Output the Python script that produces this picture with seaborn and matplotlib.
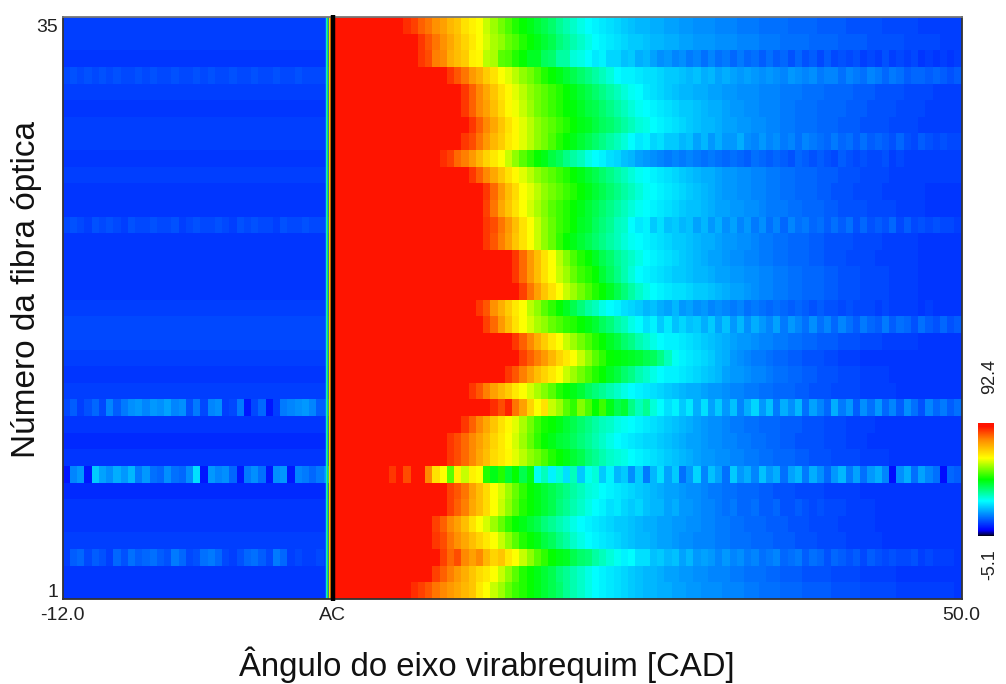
import numpy as np
import pandas as pd
import matplotlib
matplotlib.use("Agg")
import matplotlib.pyplot as plt
from matplotlib.colors import LinearSegmentedColormap
import seaborn as sns

v_min = -5.1
v_max = 92.4

# one column = half a grid step, 37 columns left of AC, 87 right of it
n_left = 37
n_right = 87
ac_col = 37.3

# rows run from fibre 35 (top) down to fibre 1
fibres = list(range(35, 0, -1))

# background level left of AC, per fibre row
left_levels = [6, 6, 5, 7, 6, 5, 6, 6, 5, 6, 5, 5, 7, 5, 5, 5, 5, 6, 7, 7, 6, 5, 6, 9, 5, 4, 5, 11, 4, 5, 5, 6, 7, 5, 5]

# rows with visible streaks left of AC
left_streaks = {
    3: [7, 8, 7, 8, 7, 8, 7, 8, 7, 7, 8, 7, 8, 7, 7, 8, 7, 7, 8, 7, 8, 7, 7, 8, 7, 7, 8, 7, 7, 8, 7, 7, 8, 7, 7, 7, 7],
    12: [7, 8, 7, 6, 8, 7, 8, 7, 6, 8, 7, 7, 8, 7, 7, 8, 6, 7, 8, 7, 7, 8, 7, 6, 8, 7, 8, 7, 7, 6, 8, 7, 7, 8, 7, 7, 7],
    23: [7, 9, 6, 8, 10, 7, 13, 9, 12, 14, 15, 13, 15, 14, 16, 13, 14, 8, 12, 7, 13, 14, 6, 7, 12, 2, 7, 10, 2, 6, 12, 13, 14, 15, 13, 9, 9],
    27: [2, 13, 15, 2, 20, 16, 14, 17, 15, 18, 12, 15, 11, 10, 14, 11, 10, 14, 22, 2, 15, 13, 14, 10, 2, 12, 14, 11, 2, 14, 15, 2, 13, 12, 10, 12, 14],
    32: [6, 9, 10, 7, 9, 8, 6, 10, 8, 11, 9, 10, 11, 9, 8, 12, 10, 7, 8, 11, 12, 10, 7, 6, 8, 10, 11, 9, 7, 12, 10, 6, 7, 6, 6, 7, 6],
}

# saturated (red) columns right of AC, per fibre row
red_cols = [10, 12, 12, 16, 18, 18, 19, 18, 15, 19, 21, 21, 21, 21, 25, 25, 26, 20, 21, 25, 26, 24, 19, 22, 18, 16, 16, 8, 16, 16, 14, 14, 15, 14, 11]

# values after the red zone, one list per fibre row
fall_35 = [87, 85, 82, 80, 77, 75, 72, 70, 66, 64, 62, 58, 55, 52, 49, 46, 44, 42, 40, 38, 36, 33, 31, 29, 27, 25, 24, 23, 22, 21, 20, 19, 18, 18, 17, 17, 16, 16, 15, 15, 14, 14, 14, 13, 13, 13, 12, 12, 12, 11, 11, 11, 11, 10, 10, 10, 10, 9, 9, 9, 9, 8, 8, 8, 8, 8, 7, 7, 7, 7, 7, 6, 6, 6, 6, 6, 6]
fall_34 = [86, 83, 80, 77, 74, 71, 68, 65, 62, 59, 56, 54, 51, 49, 46, 44, 42, 40, 38, 35, 33, 31, 29, 27, 25, 24, 23, 22, 21, 20, 20, 19, 18, 18, 17, 17, 16, 16, 15, 15, 15, 14, 14, 14, 13, 13, 13, 12, 12, 12, 11, 11, 11, 11, 10, 10, 10, 10, 9, 9, 9, 9, 8, 8, 8, 8, 8, 7, 7, 7, 7, 7, 6, 6, 6]
fall_33 = [86, 84, 79, 78, 73, 71, 69, 64, 63, 57, 56, 50, 49, 46, 44, 41, 41, 37, 36, 32, 32, 28, 27, 25, 23, 24, 21, 21, 19, 20, 17, 18, 16, 14, 15, 13, 14, 12, 13, 11, 13, 11, 12, 10, 12, 10, 11, 9, 11, 9, 10, 8, 10, 8, 9, 7, 9, 7, 8, 7, 8, 6, 7, 6, 8, 6, 7, 6, 7, 5, 6, 5, 6, 5, 6]
fall_32 = [86, 83, 80, 76, 73, 69, 66, 62, 60, 57, 54, 52, 49, 46, 44, 42, 40, 38, 36, 34, 32, 30, 28, 25, 24, 24, 23, 22, 22, 21, 20, 20, 19, 18, 19, 17, 18, 16, 17, 16, 15, 16, 15, 14, 15, 14, 13, 15, 14, 13, 14, 12, 13, 13, 11, 13, 12, 11, 13, 12, 10, 12, 11, 9, 10, 10, 9, 10, 9, 8, 9]
fall_31 = [86, 82, 78, 74, 70, 66, 63, 60, 57, 54, 52, 50, 48, 46, 44, 42, 40, 38, 36, 34, 32, 30, 28, 26, 25, 23, 22, 21, 20, 19, 18, 18, 17, 17, 16, 16, 15, 15, 14, 14, 14, 13, 13, 13, 12, 12, 12, 11, 11, 11, 10, 10, 10, 10, 9, 9, 9, 8, 8, 8, 8, 7, 7, 7, 7, 6, 6, 6, 6]
fall_30 = [86, 82, 78, 75, 71, 67, 63, 61, 58, 55, 52, 50, 48, 46, 44, 43, 41, 39, 38, 36, 34, 32, 30, 28, 26, 25, 24, 23, 22, 21, 20, 20, 19, 18, 17, 17, 16, 15, 15, 14, 14, 13, 13, 13, 12, 12, 11, 11, 11, 10, 10, 10, 10, 9, 9, 9, 8, 8, 8, 8, 7, 7, 7, 7, 6, 6, 6, 6, 6]
fall_29 = [86, 82, 78, 74, 70, 66, 63, 60, 57, 54, 52, 50, 48, 46, 44, 42, 41, 39, 37, 36, 34, 32, 30, 28, 27, 25, 24, 23, 22, 21, 20, 19, 18, 18, 17, 16, 16, 15, 15, 14, 14, 13, 13, 12, 12, 11, 11, 11, 10, 10, 10, 9, 9, 9, 8, 8, 8, 8, 7, 7, 7, 7, 6, 6, 6, 6, 6, 6]
fall_28 = [86, 84, 80, 76, 72, 69, 65, 63, 60, 57, 54, 52, 49, 46, 44, 42, 40, 38, 36, 34, 32, 30, 28, 25, 23, 24, 21, 22, 20, 20, 18, 19, 16, 18, 15, 17, 15, 15, 17, 14, 13, 15, 13, 14, 12, 13, 11, 13, 12, 11, 10, 12, 10, 11, 9, 11, 9, 10, 9, 8, 10, 8, 7, 9, 8, 7, 8, 7, 7]
fall_27 = [87, 85, 81, 79, 76, 72, 68, 65, 62, 58, 54, 50, 47, 44, 42, 39, 37, 34, 32, 30, 27, 25, 24, 22, 21, 19, 18, 16, 15, 14, 13, 12, 13, 12, 13, 12, 11, 12, 11, 10, 11, 10, 9, 11, 10, 9, 10, 9, 8, 10, 9, 8, 9, 8, 7, 9, 8, 7, 8, 7, 7, 8, 6, 7, 6, 6, 6, 6, 6, 6, 6, 6]
fall_26 = [86, 82, 78, 74, 70, 66, 63, 60, 57, 54, 52, 50, 48, 46, 44, 42, 40, 38, 36, 34, 32, 30, 28, 26, 25, 24, 23, 22, 21, 20, 19, 18, 17, 17, 16, 15, 15, 14, 14, 13, 13, 12, 12, 11, 11, 10, 10, 10, 9, 9, 9, 8, 8, 8, 7, 7, 7, 7, 6, 6, 6, 6, 6, 6, 6, 6, 6, 6]
fall_25 = [86, 81, 76, 71, 67, 62, 60, 57, 54, 52, 50, 48, 46, 44, 42, 40, 38, 36, 34, 32, 30, 28, 26, 25, 24, 23, 22, 21, 20, 19, 18, 17, 16, 15, 15, 14, 14, 13, 13, 12, 12, 11, 11, 10, 10, 10, 9, 9, 8, 8, 8, 7, 7, 7, 7, 6, 6, 6, 6, 6, 6, 5, 5, 5, 5, 5]
fall_24 = [85, 80, 74, 70, 66, 62, 59, 56, 53, 50, 48, 46, 44, 42, 40, 38, 36, 34, 32, 30, 28, 26, 25, 24, 23, 22, 21, 20, 19, 19, 18, 17, 16, 16, 15, 15, 14, 14, 13, 12, 12, 12, 11, 11, 10, 10, 10, 9, 9, 8, 8, 8, 8, 7, 7, 7, 7, 6, 6, 6, 6, 5, 5, 5, 5, 5]
fall_23 = [86, 84, 80, 76, 71, 66, 62, 58, 54, 51, 48, 46, 44, 41, 40, 37, 35, 33, 30, 29, 25, 23, 24, 20, 22, 19, 20, 18, 19, 16, 18, 15, 17, 14, 16, 13, 15, 12, 14, 11, 13, 10, 13, 11, 12, 10, 11, 9, 11, 9, 11, 8, 10, 8, 9, 8, 10, 7, 9, 7, 8, 7, 8, 7, 7, 6, 7]
fall_22 = [86, 83, 79, 75, 70, 66, 62, 58, 54, 51, 47, 44, 42, 40, 38, 36, 34, 32, 30, 28, 26, 25, 24, 23, 22, 21, 20, 20, 19, 18, 17, 17, 16, 15, 15, 14, 14, 13, 12, 12, 11, 11, 10, 10, 10, 9, 9, 8, 8, 8, 8, 7, 7, 7, 7, 6, 6, 6, 6, 6, 5, 5, 5, 5, 5, 5]
fall_21 = [86, 81, 76, 71, 66, 62, 57, 53, 49, 46, 44, 41, 38, 36, 33, 31, 29, 27, 25, 24, 23, 22, 21, 20, 19, 18, 17, 16, 16, 15, 14, 14, 13, 13, 12, 12, 11, 11, 10, 10, 10, 9, 9, 8, 8, 8, 7, 7, 7, 7, 6, 6, 6, 6, 6, 6, 5, 5, 5, 5, 5, 5]
fall_20 = [86, 81, 76, 71, 66, 62, 58, 55, 51, 48, 46, 44, 40, 37, 34, 31, 28, 25, 24, 23, 22, 21, 20, 20, 19, 18, 18, 17, 16, 16, 15, 15, 14, 14, 13, 13, 12, 12, 11, 11, 10, 10, 10, 9, 9, 8, 8, 8, 7, 7, 7, 7, 6, 6, 6, 6, 5, 5, 5, 5, 5, 5]
fall_19 = [85, 80, 75, 70, 66, 62, 58, 55, 52, 49, 46, 44, 41, 38, 35, 32, 29, 27, 25, 24, 23, 22, 22, 21, 20, 20, 19, 18, 17, 16, 16, 15, 14, 13, 13, 12, 12, 11, 11, 10, 10, 10, 9, 9, 8, 8, 8, 7, 7, 7, 7, 6, 6, 6, 6, 5, 5, 5, 5, 5, 5]
fall_18 = [86, 83, 77, 73, 69, 65, 62, 57, 54, 50, 47, 44, 41, 38, 35, 32, 30, 27, 25, 24, 22, 21, 20, 18, 19, 17, 16, 18, 15, 16, 14, 15, 13, 14, 13, 12, 13, 11, 12, 11, 10, 11, 10, 9, 10, 9, 8, 9, 8, 8, 7, 8, 7, 7, 7, 6, 7, 6, 6, 6, 6, 5, 6, 5, 5, 5, 5]
fall_17 = [85, 81, 76, 71, 66, 62, 59, 56, 54, 51, 49, 47, 46, 44, 42, 40, 37, 35, 32, 30, 27, 25, 22, 24, 20, 23, 19, 21, 19, 20, 17, 20, 16, 19, 15, 18, 14, 17, 15, 13, 16, 12, 15, 13, 11, 14, 11, 13, 10, 13, 11, 9, 12, 10, 9, 12, 9, 11, 10, 8, 11, 9, 8, 10, 8, 9]
fall_16 = [86, 82, 78, 73, 69, 65, 62, 58, 55, 52, 49, 46, 44, 41, 39, 36, 34, 31, 29, 27, 25, 24, 24, 23, 22, 21, 20, 19, 18, 17, 16, 15, 15, 14, 13, 13, 12, 12, 11, 11, 10, 10, 9, 9, 9, 8, 8, 8, 7, 7, 7, 6, 6, 6, 6, 6, 5, 5, 5, 5, 5, 5]
fall_15 = [85, 82, 79, 76, 72, 68, 65, 62, 58, 54, 50, 47, 44, 43, 42, 41, 40, 38, 37, 34, 30, 26, 24, 23, 22, 21, 20, 18, 17, 15, 14, 13, 12, 12, 11, 10, 10, 9, 9, 8, 8, 8, 7, 7, 6, 6, 6, 5, 5, 5, 5, 5, 5, 5, 5, 5, 5, 5, 5, 5, 5]
fall_14 = [86, 83, 79, 75, 71, 68, 65, 62, 58, 55, 52, 49, 46, 44, 41, 39, 36, 34, 31, 29, 27, 25, 24, 24, 23, 22, 21, 20, 19, 18, 16, 15, 15, 14, 13, 13, 12, 11, 11, 10, 10, 9, 9, 8, 8, 8, 7, 7, 7, 6, 6, 6, 6, 5, 5, 5, 5, 5, 5, 5, 5, 5, 5]
fall_13 = [86, 83, 79, 75, 72, 69, 65, 62, 59, 56, 53, 50, 46, 44, 42, 40, 37, 35, 33, 31, 29, 27, 25, 24, 23, 22, 21, 20, 19, 18, 17, 17, 16, 15, 15, 14, 13, 13, 12, 12, 11, 11, 10, 10, 10, 9, 9, 8, 8, 8, 7, 7, 7, 7, 6, 6, 6, 6, 6, 5, 5, 5, 5, 5, 5, 5, 5, 5]
fall_12 = [87, 84, 88, 80, 75, 68, 62, 66, 58, 55, 50, 47, 53, 49, 44, 48, 42, 38, 40, 34, 30, 33, 28, 25, 22, 24, 20, 23, 17, 22, 16, 20, 15, 19, 13, 17, 21, 15, 19, 12, 17, 14, 18, 11, 16, 13, 10, 17, 12, 15, 9, 14, 11, 15, 10, 13, 9, 14, 11, 8, 13, 10, 12, 9, 11]
fall_11 = [86, 82, 78, 74, 70, 66, 63, 60, 56, 52, 48, 45, 44, 42, 40, 38, 36, 34, 32, 30, 29, 27, 26, 25, 24, 23, 22, 21, 20, 19, 18, 17, 16, 15, 14, 14, 13, 12, 12, 11, 11, 10, 10, 10, 9, 9, 9, 8, 8, 8, 7, 7, 7, 6, 6, 6, 6, 5, 5, 5, 5, 5, 5, 5, 5, 5, 5, 5, 5]
fall_10 = [86, 84, 81, 78, 75, 72, 68, 65, 62, 59, 55, 51, 47, 44, 42, 40, 39, 37, 35, 33, 31, 29, 27, 25, 24, 23, 22, 21, 21, 20, 19, 18, 17, 16, 16, 15, 14, 14, 13, 13, 12, 12, 11, 11, 10, 10, 9, 9, 8, 8, 8, 8, 7, 7, 7, 6, 6, 6, 5, 5, 5, 5, 5, 5, 5, 5, 5, 5, 5, 5, 5]
fall_9 = [86, 84, 81, 78, 74, 71, 67, 65, 63, 60, 57, 54, 52, 49, 46, 44, 42, 40, 38, 35, 33, 31, 29, 28, 27, 25, 24, 23, 22, 21, 20, 19, 18, 17, 16, 15, 15, 14, 14, 13, 13, 12, 12, 11, 11, 10, 10, 10, 9, 9, 8, 8, 8, 7, 7, 7, 7, 6, 6, 6, 6, 5, 5, 5, 5, 5, 5, 5, 5, 5, 5]
fall_8 = [86, 92, 84, 92, 90, 78, 66, 62, 50, 64, 58, 64, 62, 46, 42, 46, 40, 44, 38, 42, 26, 30, 24, 28, 22, 30, 20, 26, 28, 20, 24, 18, 20, 14, 20, 12, 18, 22, 16, 20, 11, 15, 21, 13, 19, 16, 11, 20, 15, 17, 13, 19, 15, 17, 11, 16, 18, 12, 17, 14, 10, 15, 18, 12, 16, 11, 15, 17, 13, 1, 14, 17, 11, 16, 13, 11, 1, 10, 9, 0]
fall_7 = [85, 83, 80, 75, 71, 67, 62, 59, 55, 51, 47, 44, 42, 40, 38, 36, 34, 32, 30, 28, 27, 25, 24, 23, 22, 21, 20, 19, 18, 17, 16, 16, 15, 14, 14, 13, 12, 12, 11, 11, 10, 10, 10, 9, 9, 8, 8, 8, 7, 7, 7, 7, 6, 6, 6, 6, 6, 5, 5, 5, 5, 5, 5, 5, 5, 5, 5, 5, 5, 5, 5]
fall_6 = [85, 82, 79, 74, 71, 67, 62, 58, 54, 50, 46, 44, 42, 40, 38, 35, 33, 31, 29, 27, 25, 24, 22, 23, 21, 20, 21, 19, 18, 18, 16, 17, 15, 15, 14, 13, 13, 12, 11, 12, 10, 10, 11, 9, 9, 10, 8, 8, 9, 8, 7, 8, 7, 7, 7, 6, 6, 6, 6, 5, 5, 5, 5, 5, 5, 5, 5, 5, 5, 5, 5, 5]
fall_5 = [85, 82, 78, 75, 71, 66, 62, 59, 55, 51, 47, 44, 42, 40, 38, 35, 33, 31, 29, 27, 25, 24, 23, 22, 21, 20, 20, 19, 18, 17, 17, 16, 16, 15, 15, 14, 14, 13, 13, 12, 12, 11, 11, 10, 10, 10, 9, 9, 9, 8, 8, 8, 7, 7, 7, 7, 6, 6, 6, 6, 6, 5, 5, 5, 5, 5, 5, 5, 5, 5, 5]
fall_4 = [86, 84, 80, 77, 74, 71, 68, 65, 62, 58, 54, 50, 46, 44, 42, 39, 37, 34, 32, 29, 27, 25, 24, 23, 22, 21, 20, 19, 18, 18, 17, 16, 16, 15, 14, 14, 13, 13, 13, 12, 12, 11, 11, 11, 10, 10, 10, 9, 9, 9, 8, 8, 8, 7, 7, 7, 7, 6, 6, 6, 6, 6, 5, 5, 5, 5, 5, 5, 5, 5, 5, 5, 5]
fall_3 = [85, 81, 84, 78, 75, 78, 72, 68, 70, 65, 62, 58, 54, 50, 47, 44, 42, 41, 38, 36, 35, 32, 30, 28, 26, 24, 25, 22, 22, 19, 20, 18, 19, 16, 18, 15, 16, 15, 13, 15, 13, 14, 12, 13, 11, 12, 13, 10, 11, 12, 9, 11, 10, 8, 10, 9, 8, 9, 7, 9, 8, 7, 8, 7, 7, 8, 6, 7, 6, 6, 6, 5, 6]
fall_2 = [85, 82, 79, 76, 73, 70, 67, 65, 62, 58, 54, 50, 46, 44, 42, 40, 38, 35, 33, 31, 29, 27, 25, 24, 23, 22, 21, 20, 19, 18, 18, 17, 16, 16, 15, 15, 14, 14, 13, 13, 13, 12, 12, 11, 11, 11, 10, 10, 9, 9, 9, 8, 8, 8, 8, 7, 7, 7, 7, 6, 6, 6, 6, 6, 5, 5, 5, 5, 5, 5, 5, 5, 5]
fall_1 = [87, 85, 83, 80, 78, 76, 74, 72, 70, 65, 62, 58, 55, 51, 48, 46, 44, 42, 40, 38, 36, 33, 31, 29, 27, 25, 24, 23, 22, 21, 20, 19, 18, 18, 17, 17, 16, 16, 15, 15, 14, 14, 14, 13, 13, 13, 12, 12, 11, 11, 11, 10, 10, 10, 9, 9, 9, 9, 8, 8, 8, 8, 7, 7, 7, 7, 7, 6, 6, 6, 6, 6, 6, 6, 6, 5]

falloffs = [fall_35, fall_34, fall_33, fall_32, fall_31, fall_30, fall_29, fall_28, fall_27, fall_26,
            fall_25, fall_24, fall_23, fall_22, fall_21, fall_20, fall_19, fall_18, fall_17, fall_16,
            fall_15, fall_14, fall_13, fall_12, fall_11, fall_10, fall_9, fall_8, fall_7, fall_6,
            fall_5, fall_4, fall_3, fall_2, fall_1]

# colours of the thin ramp just before the AC line
ramp_offsets = [-0.66, -0.45, -0.24, -0.06]
ramp_colors = ["#00e0ff", "#20f040", "#ffee00", "#ff7a00"]

# scale colours, as seen on the colour bar
scale_stops = [0.0, 0.012, 0.05, 0.31, 0.5, 0.69, 0.85, 0.97, 1.0]
scale_colors = ["#000000", "#00005a", "#0000ff", "#00ffff", "#00ff00", "#ffff00", "#ff8c00", "#ff1400", "#ff1400"]

rows = []
for i, fibre in enumerate(fibres):
    left = left_streaks.get(i, [left_levels[i]] * n_left)
    right = [92] * red_cols[i] + falloffs[i]
    right = (right + [right[-1]] * n_right)[:n_right]
    rows.append(left + right)

df = pd.DataFrame(rows, index=fibres)

cmap = LinearSegmentedColormap.from_list("fibra", list(zip(scale_stops, scale_colors)), N=512)

plt.rcParams["font.family"] = ["Liberation Sans", "DejaVu Sans"]

fig = plt.figure(figsize=(10.06, 6.84), dpi=100)
ax = fig.add_axes([62.5 / 1006, 1 - 599 / 684, 899 / 1006, 582 / 684])
cax = fig.add_axes([978 / 1006, 1 - 536 / 684, 16 / 1006, 113 / 684])

sns.heatmap(df, ax=ax, cbar_ax=cax, cmap=cmap, vmin=v_min, vmax=v_max,
            xticklabels=False, yticklabels=False)

# thin ramp and the AC line
for off, col in zip(ramp_offsets, ramp_colors):
    ax.axvline(n_left + off, color=col, lw=1.0)
ax.axvline(ac_col, ymin=-0.004, ymax=1.004, color="black", lw=3.2, clip_on=False,
           zorder=5, solid_capstyle="butt")

ax.set_xticks([0, ac_col, len(df.columns)])
ax.set_xticklabels(["-12.0", "AC", "50.0"], rotation=0, fontsize=14, color="#222222")
ax.set_yticks([0.5, len(df) - 0.5])
ax.set_yticklabels(["35", "1"], rotation=0, fontsize=14, color="#222222")
ax.tick_params(axis="x", length=0, pad=6)
ax.tick_params(axis="y", length=0, pad=3)

ax.set_xlabel("Ângulo do eixo virabrequim [CAD]", fontsize=23.7, color="#111111", va="center")
ax.xaxis.set_label_coords(0.4716, -0.113)
ax.set_ylabel("Número da fibra óptica", fontsize=24, color="#111111", va="center")
ax.yaxis.set_label_coords(-0.0395, 0.5326)

for side in ax.spines.values():
    side.set_visible(True)
    side.set_linewidth(1.3)
    side.set_color("#333333")
ax.spines["top"].set_color("#777777")

# colour bar has only its two end labels, written sideways above and below
cax.set_yticks([])
cax.tick_params(length=0)
fig.text(990 / 1006, 1 - 376 / 684, "92.4", rotation=90, ha="center", va="center", fontsize=13, color="#222222")
fig.text(990 / 1006, 1 - 565 / 684, "-5.1", rotation=90, ha="center", va="center", fontsize=13, color="#222222")

fig.savefig("out.png", dpi=100)
